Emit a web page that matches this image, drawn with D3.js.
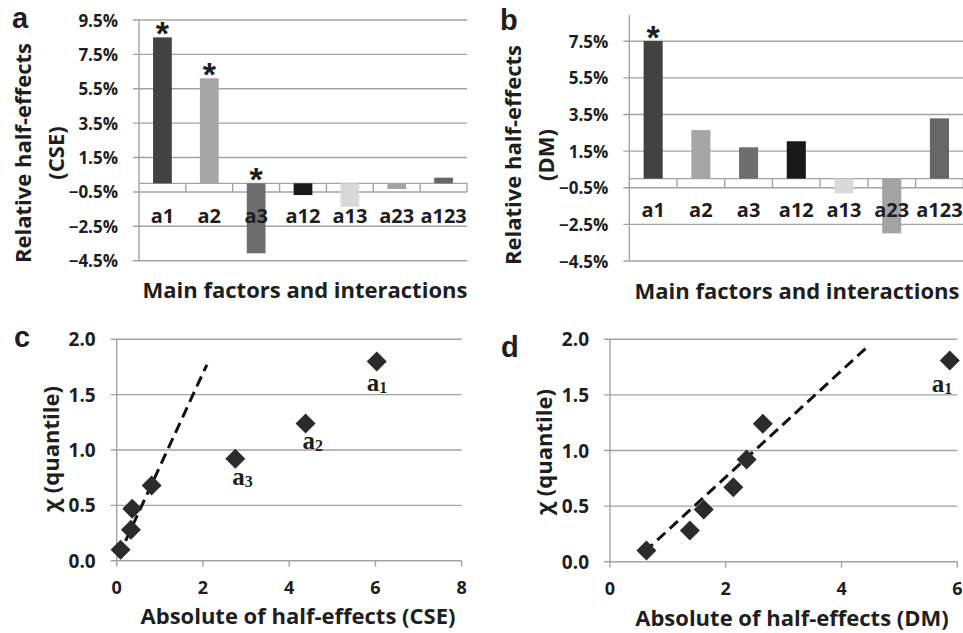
<!DOCTYPE html>
<html>
<head>
<meta charset="utf-8">
<script src="https://cdn.jsdelivr.net/npm/d3@7"></script>
<style>
  html, body { margin: 0; padding: 0; background: #fff; }
  svg { display: block; }
  text { fill: #1e1e1e; }
</style>
</head>
<body>
<svg id="chart" width="963" height="633"></svg>
<script>
// ---------------- DATA ----------------
const categories = ["a1", "a2", "a3", "a12", "a13", "a23", "a123"];
const barColors = ["#424242", "#a6a6a6", "#6e6e6e", "#181818", "#d9d9d9", "#a3a3a3", "#666666"];
const cseValues = [8.49, 6.11, -4.07, -0.68, -1.36, -0.33, 0.33];
const dmValues = [7.52, 2.65, 1.71, 2.04, -0.80, -2.99, 3.29];
const cseSignificant = ["a1", "a2", "a3"];
const dmSignificant = ["a1"];
const cseTicks = [9.5, 7.5, 5.5, 3.5, 1.5, -0.5, -2.5, -4.5];
const dmTicks = [7.5, 5.5, 3.5, 1.5, -0.5, -2.5, -4.5];

const cseAbs = [0.09, 0.33, 0.36, 0.81, 2.75, 4.38, 6.03];
const cseQuantile = [0.10, 0.28, 0.47, 0.68, 0.92, 1.24, 1.80];
const cseLabels = ["", "", "", "", "3", "2", "1"];
const cseFit = [[0.04, 0.04], [2.09, 1.77]];

const dmAbs = [0.63, 1.38, 1.62, 2.13, 2.36, 2.64, 5.87];
const dmQuantile = [0.10, 0.28, 0.47, 0.67, 0.92, 1.24, 1.81];
const dmLabels = ["", "", "", "", "", "", "1"];
const dmFit = [[0.60, 0.09], [4.42, 1.92]];

const quantileTicks = [0.0, 0.5, 1.0, 1.5, 2.0];
const cseXTicks = [0, 2, 4, 6, 8];
const dmXTicks = [0, 2, 4, 6];

// ---------------- STYLE ----------------
const SANS = "'Open Sans', Lato, sans-serif";
const GRID = "#a3a3a3";
const svg = d3.select("#chart");

function panelLetter(letter, x, y) {
  svg.append("text").attr("x", x).attr("y", y)
    .attr("font-family", "'Liberation Sans', Arial, sans-serif")
    .attr("font-weight", "bold").attr("font-size", 29).text(letter);
}

function rotatedText(txt, cx, cy, size) {
  svg.append("text")
    .attr("transform", `translate(${cx},${cy}) rotate(-90)`)
    .attr("text-anchor", "middle").attr("dominant-baseline", "central")
    .attr("font-family", SANS).attr("font-weight", "bold").attr("font-size", size)
    .text(txt);
}

function bottomTitle(txt, cx, y, size) {
  svg.append("text").attr("x", cx).attr("y", y).attr("text-anchor", "middle")
    .attr("font-family", SANS).attr("font-weight", "bold").attr("font-size", size)
    .text(txt);
}

// ---------------- BAR PANEL ----------------
function barPanel(cfg) {
  const g = svg.append("g");
  const y = d3.scaleLinear().domain(cfg.domain).range(cfg.yRange);
  const x = d3.scaleBand().domain(categories).range(cfg.xRange)
    .paddingInner(0.6).paddingOuter(0.3);
  const step = x.step();
  const [x0, x1] = cfg.xRange;

  g.selectAll("line.grid").data(cfg.ticks).join("line")
    .attr("x1", x0 - 6).attr("x2", x1)
    .attr("y1", d => y(d)).attr("y2", d => y(d))
    .attr("stroke", GRID).attr("stroke-width", 1.4);
  g.selectAll("text.ytick").data(cfg.ticks).join("text")
    .attr("x", x0 - 21).attr("y", d => y(d))
    .attr("text-anchor", "end").attr("dominant-baseline", "central")
    .attr("font-family", SANS).attr("font-weight", "bold").attr("font-size", 17)
    .text(d => d3.format(".1f")(d) + "%");
  g.append("line").attr("x1", x0).attr("x2", x0)
    .attr("y1", y(cfg.domain[1])).attr("y2", y(cfg.domain[0]))
    .attr("stroke", GRID).attr("stroke-width", 1.4);
  g.append("line").attr("x1", x0).attr("x2", x1).attr("y1", y(0)).attr("y2", y(0))
    .attr("stroke", GRID).attr("stroke-width", 1.4);
  const bounds = d3.range(1, categories.length + 1).map(i => x0 + i * step);
  g.selectAll("line.div").data(bounds).join("line")
    .attr("x1", d => d).attr("x2", d => d)
    .attr("y1", y(0)).attr("y2", y(-0.5))
    .attr("stroke", GRID).attr("stroke-width", 1.4);
  g.selectAll("rect.bar").data(cfg.values).join("rect")
    .attr("x", (d, i) => x(categories[i]))
    .attr("width", x.bandwidth())
    .attr("y", d => y(Math.max(0, d)))
    .attr("height", d => Math.abs(y(d) - y(0)))
    .attr("fill", (d, i) => barColors[i]);
  g.selectAll("text.star").data(cfg.values.map((v, i) => ({ v, c: categories[i] }))
      .filter(d => cfg.significant.includes(d.c))).join("text")
    .attr("x", d => x(d.c) + x.bandwidth() / 2)
    .attr("y", d => y(Math.max(0, d.v)) + 8)
    .attr("text-anchor", "middle")
    .attr("font-family", "'Liberation Sans', Arial, sans-serif").attr("font-weight", "bold")
    .attr("font-size", 34).text("*");
  g.selectAll("text.cat").data(categories).join("text")
    .attr("x", d => x(d) + x.bandwidth() / 2)
    .attr("y", cfg.catY)
    .attr("text-anchor", "middle")
    .attr("font-family", SANS).attr("font-weight", "bold").attr("font-size", 20)
    .text(d => d);
}

// ---------------- SCATTER PANEL ----------------
function scatterPanel(cfg) {
  const g = svg.append("g");
  const x = d3.scaleLinear().domain(cfg.xDomain).range(cfg.xRange);
  const y = d3.scaleLinear().domain([0, 2]).range(cfg.yRange);
  const [x0, x1] = cfg.xRange;
  g.selectAll("line.grid").data(quantileTicks).join("line")
    .attr("x1", x0 - 6).attr("x2", x1)
    .attr("y1", d => y(d)).attr("y2", d => y(d))
    .attr("stroke", GRID).attr("stroke-width", 1.4);
  g.append("line").attr("x1", x0).attr("x2", x0).attr("y1", y(2)).attr("y2", y(0))
    .attr("stroke", GRID).attr("stroke-width", 1.4);
  g.selectAll("line.xt").data(cfg.xTicks).join("line")
    .attr("x1", d => x(d)).attr("x2", d => x(d))
    .attr("y1", y(0)).attr("y2", y(0) + 6)
    .attr("stroke", GRID).attr("stroke-width", 1.4);
  g.selectAll("text.yt").data(quantileTicks).join("text")
    .attr("x", x0 - 21).attr("y", d => y(d))
    .attr("text-anchor", "end").attr("dominant-baseline", "central")
    .attr("font-family", SANS).attr("font-weight", "bold").attr("font-size", 19)
    .text(d => d3.format(".1f")(d));
  g.selectAll("text.xt").data(cfg.xTicks).join("text")
    .attr("x", d => x(d)).attr("y", cfg.xTickY)
    .attr("text-anchor", "middle")
    .attr("font-family", SANS).attr("font-weight", "bold").attr("font-size", 18)
    .text(d => d);
  g.append("line")
    .attr("x1", x(cfg.fit[0][0])).attr("y1", y(cfg.fit[0][1]))
    .attr("x2", x(cfg.fit[1][0])).attr("y2", y(cfg.fit[1][1]))
    .attr("stroke", "#111").attr("stroke-width", 3)
    .attr("stroke-dasharray", "11,6");
  const sym = d3.symbol().type(d3.symbolSquare).size(200);
  g.selectAll("path.pt").data(cfg.xs).join("path")
    .attr("d", sym)
    .attr("transform", (d, i) => `translate(${x(d)},${y(cfg.ys[i])}) rotate(45)`)
    .attr("fill", "#2b2b2b");
  cfg.labels.forEach((lab, i) => {
    if (!lab) return;
    const t = g.append("text")
      .attr("x", x(cfg.xs[i]) + cfg.labelDx[lab])
      .attr("y", y(cfg.ys[i]) + cfg.labelDy[lab])
      .attr("font-family", "'Liberation Serif', 'Times New Roman', serif")
      .attr("font-weight", "bold").attr("font-size", 25);
    t.append("tspan").text("a");
    t.append("tspan").attr("font-size", 16).attr("dy", 2).text(lab);
  });
}

// ---------------- DRAW ----------------
barPanel({
  values: cseValues, significant: cseSignificant, ticks: cseTicks,
  domain: [-4.5, 9.5], yRange: [260.7, 20], xRange: [139, 467], catY: 223
});
const yB = d3.scaleLinear().domain([-4.5, 7.5]).range([261, 41.3]);
barPanel({
  values: dmValues, significant: dmSignificant, ticks: dmTicks,
  domain: [-4.5, yB.invert(15)], yRange: [261, 15], xRange: [629.3, 963.3], catY: 217
});

scatterPanel({
  xs: cseAbs, ys: cseQuantile, labels: cseLabels, fit: cseFit,
  xDomain: [0, 8], xRange: [116.7, 461.7], yRange: [560.7, 339.3],
  xTicks: cseXTicks, xTickY: 594,
  labelDx: { "1": -10, "2": -3, "3": -3 }, labelDy: { "1": 30, "2": 26, "3": 26 }
});
scatterPanel({
  xs: dmAbs, ys: dmQuantile, labels: dmLabels, fit: dmFit,
  xDomain: [0, 6], xRange: [610, 957.3], yRange: [561.7, 339.3],
  xTicks: dmXTicks, xTickY: 595,
  labelDx: { "1": -18 }, labelDy: { "1": 32 }
});

panelLetter("a", 12, 28);
panelLetter("b", 500, 30);
panelLetter("c", 14, 347);
panelLetter("d", 501, 357);

rotatedText("Relative half-effects", 22, 153, 22);
rotatedText("(CSE)", 55, 153, 22);
rotatedText("Relative half-effects", 512, 155, 22);
rotatedText("(DM)", 545, 155, 22);
bottomTitle("Main factors and interactions", 305, 298, 22);
bottomTitle("Main factors and interactions", 797, 299, 22);

rotatedText("χ (quantile)", 50, 449, 22);
rotatedText("χ (quantile)", 543, 452, 22);
bottomTitle("Absolute of half-effects (CSE)", 298, 624, 22);
bottomTitle("Absolute of half-effects (DM)", 792, 626, 22);
</script>
</body>
</html>
